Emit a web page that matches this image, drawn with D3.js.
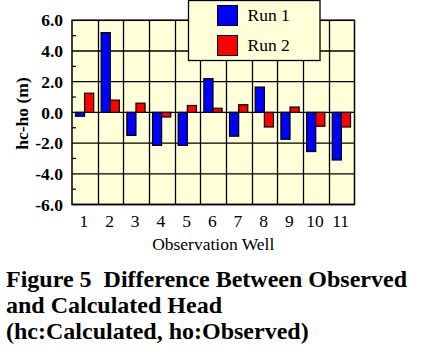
<!DOCTYPE html>
<html><head><meta charset="utf-8">
<script src="https://cdn.jsdelivr.net/npm/d3@7"></script>
<style>
html,body{margin:0;padding:0;background:#fff;}
svg{display:block;}
</style></head>
<body>
<svg id="c" width="427" height="356"></svg>
<script>
const wells = ["1","2","3","4","5","6","7","8","9","10","11"];
const run1 = [-0.25, 5.2, -1.5, -2.15, -2.15, 2.2, -1.55, 1.65, -1.75, -2.55, -3.1];
const run2 = [1.25, 0.8, 0.6, -0.3, 0.45, 0.27, 0.5, -0.95, 0.35, -0.9, -0.95];
const seriesNames = ["Run 1", "Run 2"];
const seriesColors = ["#0000ff", "#ff0000"];
const yTicks = [-6, -4, -2, 0, 2, 4, 6];
const yMinor = [-5, -3, -1, 1, 3, 5];
const xTitle = "Observation Well";
const yTitle = "hc-ho (m)";
const caption = ["Figure 5\u00a0 Difference Between Observed", "and Calculated Head", "(hc:Calculated, ho:Observed)"];

const svg = d3.select("#c");
const L = 72, R = 354.5, T = 20.3, B = 204.5;
const x = d3.scaleBand().domain(wells).range([L, R]).paddingInner(0).paddingOuter(0);
const y = d3.scaleLinear().domain([-6, 6]).range([B, T]);
const bg = "#ffffd8";
const serif = "'Liberation Serif','Times New Roman',Times,serif";

svg.append("rect").attr("x", L).attr("y", T).attr("width", R - L).attr("height", B - T).attr("fill", bg);

const g = svg.append("g");
wells.forEach((w, i) => {
  if (i > 0) g.append("line").attr("x1", Math.round(x(w)) + 0.5).attr("x2", Math.round(x(w)) + 0.5)
    .attr("y1", T).attr("y2", B).attr("stroke", "#000").attr("stroke-width", 1.3);
});
yTicks.forEach(v => {
  g.append("line").attr("x1", L).attr("x2", R).attr("y1", y(v)).attr("y2", y(v))
    .attr("stroke", "#000").attr("stroke-width", 1.3);
});
yMinor.forEach(v => {
  g.append("line").attr("x1", L).attr("x2", L + 4).attr("y1", y(v)).attr("y2", y(v))
    .attr("stroke", "#000").attr("stroke-width", 1.2);
});

const bw = x.bandwidth();
const bars = svg.append("g");
[run1, run2].forEach((vals, s) => {
  bars.selectAll(null).data(vals).enter().append("rect")
    .attr("x", (d, i) => x(wells[i]) + bw * 0.135 + s * bw * 0.355)
    .attr("width", bw * 0.355)
    .attr("y", d => y(Math.max(0, d)))
    .attr("height", d => Math.abs(y(d) - y(0)))
    .attr("fill", seriesColors[s]).attr("stroke", "#000").attr("stroke-width", 1.2);
});

svg.append("rect").attr("x", L).attr("y", T).attr("width", R - L).attr("height", B - T)
  .attr("fill", "none").attr("stroke", "#000").attr("stroke-width", 1.5);

const yAxis = d3.axisLeft(y).tickValues(yTicks).tickSize(0).tickPadding(9).tickFormat(d3.format(".1f"));
const ya = svg.append("g").attr("transform", `translate(${L},0)`).call(yAxis);
ya.select(".domain").remove();
ya.selectAll("text").attr("font-family", serif).attr("font-size", 17.5).attr("font-weight", "bold").attr("fill", "#000")
  .text(d => d.toFixed(1));

const xAxis = d3.axisBottom(x).tickSize(0).tickPadding(10);
const xa = svg.append("g").attr("transform", `translate(-1,${B})`).call(xAxis);
xa.select(".domain").remove();
xa.selectAll("text").attr("font-family", serif).attr("font-size", 17.5).attr("fill", "#000");

svg.append("text").attr("x", (L + R) / 2).attr("y", 249.5).attr("text-anchor", "middle")
  .attr("font-family", serif).attr("font-size", 17.5).text(xTitle);

svg.append("text").attr("transform", `translate(28,${113.5}) rotate(-90)`).attr("text-anchor", "middle")
  .attr("font-family", serif).attr("font-size", 17.5).attr("font-weight", "bold").text(yTitle);

const lg = svg.append("g");
lg.append("rect").attr("x", 188.5).attr("y", 0.5).attr("width", 131.5).attr("height", 60)
  .attr("fill", bg).attr("stroke", "#000").attr("stroke-width", 1.3);
seriesNames.forEach((n, i) => {
  lg.append("rect").attr("x", 217.5).attr("y", 5.5 + i * 30).attr("width", 20).attr("height", 20)
    .attr("fill", seriesColors[i]).attr("stroke", "#000").attr("stroke-width", 1);
  lg.append("text").attr("x", 247.5).attr("y", 21 + i * 30).attr("font-family", serif)
    .attr("font-size", 17.5).text(n);
});

caption.forEach((t, i) => {
  svg.append("text").attr("x", 6).attr("y", 287 + i * 26).attr("font-family", serif)
    .attr("font-size", 24).attr("font-weight", "bold").text(t);
});
</script>
</body></html>
